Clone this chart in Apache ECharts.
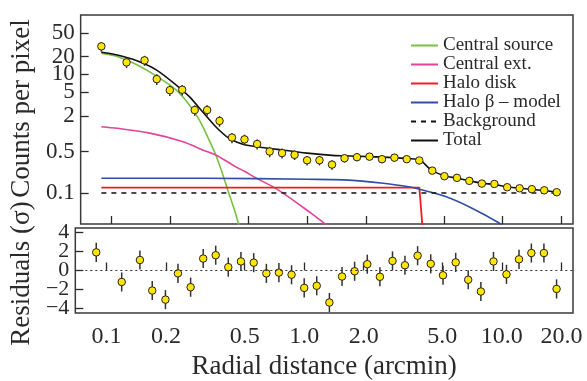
<!DOCTYPE html>
<html>
<head>
<meta charset="utf-8">
<script src="https://cdn.jsdelivr.net/npm/echarts@6/dist/echarts.min.js"></script>
<style>
html, body { margin: 0; padding: 0; background: #fff; }
#chart { width: 587px; height: 381px; }
</style>
</head>
<body>
<div id="chart"></div>
<script>
// measured profile (arcmin, counts per pixel)
var radius = [0.0887, 0.1193, 0.1475, 0.1703, 0.1986, 0.2298, 0.2663, 0.3083, 0.3567, 0.4129,
  0.4785, 0.5553, 0.6435, 0.7447, 0.863, 1.0, 1.157, 1.341, 1.554, 1.799,
  2.085, 2.415, 2.797, 3.233, 3.747, 4.366, 5.037, 5.84, 6.755, 7.83,
  9.07, 10.55, 12.21, 14.1, 16.32, 18.91];
var counts = [29.6, 15.9, 17.2, 8.3, 5.4, 5.5, 2.5, 2.5, 1.64, 0.86,
  0.8, 0.67, 0.5, 0.47, 0.44, 0.356, 0.356, 0.301, 0.385, 0.401,
  0.41, 0.371, 0.394, 0.371, 0.353, 0.238, 0.192, 0.18, 0.16, 0.144,
  0.142, 0.125, 0.12, 0.116, 0.111, 0.103];
var countErr = [5.5, 3.2, 3.3, 1.7, 1.1, 1.1, 0.5, 0.5, 0.33, 0.17,
  0.16, 0.13, 0.1, 0.09, 0.08, 0.065, 0.065, 0.055, 0.06, 0.06,
  0.06, 0.055, 0.055, 0.05, 0.05, 0.03, 0.025, 0.022, 0.02, 0.018,
  0.016, 0.014, 0.013, 0.012, 0.012, 0.011];
var residuals = [1.9, -1.2, 1.1, -2.1, -3.05, -0.3, -1.75, 1.25, 1.6, 0.35,
  0.95, 0.82, -0.3, -0.22, -0.44, -1.82, -1.6, -3.35, -0.63, -0.08,
  0.66, -0.66, 1.0, 0.55, 1.55, 0.7, -0.5, 0.85, -0.97, -2.2,
  0.95, -0.4, 1.17, 1.83, 1.83, -1.93];

// model components [r, counts]
var centralSource = [[0.0887, 22.8], [0.107, 20.0], [0.1348, 14.5], [0.17, 9.3], [0.2143, 5.4],
  [0.25, 3.04], [0.281, 1.7], [0.3155, 0.78], [0.341, 0.44], [0.3685, 0.215],
  [0.398, 0.099], [0.43, 0.046], [0.46, 0.02]];
var centralExt = [[0.0887, 1.31], [0.107, 1.23], [0.157, 1.02], [0.232, 0.733], [0.292, 0.532],
  [0.341, 0.438], [0.43, 0.278], [0.484, 0.228], [0.532, 0.189], [0.711, 0.113],
  [1.047, 0.0457], [1.33, 0.025]];
var haloDisk = [[0.0887, 0.123], [3.75, 0.123], [3.92, 0.02]];
var haloBeta = [[0.0887, 0.177], [0.3, 0.177], [1.0, 0.170], [1.54, 0.166], [2.45, 0.146],
  [3.47, 0.124], [3.75, 0.116], [5.11, 0.087], [6.97, 0.0554], [9.5, 0.0318], [10.5, 0.025]];
var background = [[0.0887, 0.1], [19.4, 0.1]];
var total = [[0.0887, 23.5], [0.107, 21.1], [0.1348, 16.9], [0.17, 11.8], [0.2143, 6.6],
  [0.25, 4.2], [0.292, 2.34], [0.341, 1.31], [0.398, 0.84], [0.465, 0.67],
  [0.522, 0.62], [0.745, 0.53], [1.0, 0.47], [1.341, 0.43], [1.554, 0.423],
  [2.085, 0.41], [2.797, 0.394], [3.5, 0.375], [3.75, 0.368], [4.3, 0.245],
  [5.04, 0.195], [5.84, 0.178], [6.76, 0.16], [7.83, 0.146], [9.07, 0.139],
  [10.55, 0.127], [12.21, 0.12], [14.1, 0.115], [16.32, 0.11], [18.91, 0.104]];

var xTicks = [0.1, 0.2, 0.5, 1, 2, 5, 10, 20];
var xTickLabels = ['0.1', '0.2', '0.5', '1.0', '2.0', '5.0', '10.0', '20.0'];
var yTicks = [0.1, 0.5, 2, 5, 10, 20, 50];
var yTickLabels = ['0.1', '0.5', '2', '5', '10', '20', '50'];
var resTicks = [-4, -2, 0, 2, 4];
var resTickLabels = ['\u22124', '\u22122', '0', '2', '4'];

var serif = 'Liberation Serif';
var ink = '#2a2a2a';

function pick(ticks, labels) {
  return function (v) {
    for (var i = 0; i < ticks.length; i++) {
      if (Math.abs(ticks[i] - v) < 1e-6 * Math.max(1, Math.abs(v))) return labels[i];
    }
    return '';
  };
}

function errorBar(params, api) {
  var x = api.value(0);
  var lo = api.coord([x, api.value(1)]);
  var hi = api.coord([x, api.value(2)]);
  return {
    type: 'line',
    shape: { x1: lo[0], y1: lo[1], x2: hi[0], y2: hi[1] },
    style: { stroke: '#333', lineWidth: 1.5 }
  };
}

var countBars = radius.map(function (r, i) {
  return [r, counts[i] - countErr[i], counts[i] + countErr[i]];
});
var resBars = radius.map(function (r, i) {
  return [r, residuals[i] - 1, residuals[i] + 1];
});

function xAxisCfg(grid, labels) {
  return {
    type: 'log', gridIndex: grid, min: 0.0695, max: 22.9,
    axisLine: { show: false },
    axisTick: { inside: true, length: 8, interval: 0, customValues: xTicks, lineStyle: { color: ink, width: 1.3 } },
    axisLabel: {
      show: labels, customValues: xTicks, formatter: pick(xTicks, xTickLabels),
      interval: 0, showMinLabel: true, showMaxLabel: true, hideOverlap: false,
      fontFamily: serif, fontSize: 24, color: ink, margin: 12
    },
    splitLine: { show: false },
    name: labels ? 'Radial distance (arcmin)' : '',
    nameLocation: 'middle', nameGap: 40,
    nameTextStyle: { fontFamily: serif, fontSize: 27, color: ink }
  };
}

function line(name, data, color, width, type, smooth) {
  return {
    name: name, type: 'line', xAxisIndex: 0, yAxisIndex: 0, data: data,
    symbol: 'none', smooth: smooth, clip: true,
    lineStyle: { color: color, width: width, type: type },
    itemStyle: { color: color }, z: 2
  };
}

var chart = echarts.init(document.getElementById('chart'));
chart.setOption({
  animation: false,
  grid: [
    { left: 73, right: 14, top: 15, height: 209, show: true, borderColor: '#3a3a3a', borderWidth: 1.5 },
    { left: 73, right: 14, top: 228, height: 92, show: true, borderColor: '#3a3a3a', borderWidth: 1.5 }
  ],
  legend: {
    left: 410, top: 36, padding: 0, orient: 'vertical', itemWidth: 27, itemHeight: 2, itemGap: 0,
    itemStyle: { opacity: 0 },
    textStyle: { fontFamily: serif, fontSize: 19, lineHeight: 17.3, color: ink },
    data: ['Central source', 'Central ext.', 'Halo disk', 'Halo \u03b2 \u2013 model', 'Background', 'Total']
  },
  xAxis: [xAxisCfg(0, false), xAxisCfg(1, true)],
  yAxis: [
    {
      type: 'log', gridIndex: 0, min: 0.03, max: 100,
      axisLine: { show: false },
      axisTick: { inside: true, length: 8, interval: 0, customValues: yTicks, lineStyle: { color: ink, width: 1.3 } },
      axisLabel: {
        customValues: yTicks, formatter: pick(yTicks, yTickLabels),
        interval: 0, showMinLabel: true, showMaxLabel: true, hideOverlap: false,
        fontFamily: serif, fontSize: 23, lineHeight: 15, color: ink, margin: 6
      },
      splitLine: { show: false },
      name: 'Counts per pixel', nameLocation: 'middle', nameGap: 40,
      nameTextStyle: { fontFamily: serif, fontSize: 27, color: ink, padding: [0, 0, 0, 22] }
    },
    {
      // ticks land on -4..4 step 2 (niced from the ±4.45 extent)
      type: 'value', gridIndex: 1, min: -4.45, max: 4.45, splitNumber: 4,
      axisLine: { show: false },
      axisTick: { inside: true, length: 8, lineStyle: { color: ink, width: 1.3 } },
      axisLabel: {
        formatter: pick(resTicks, resTickLabels),
        showMinLabel: false, showMaxLabel: false, hideOverlap: false,
        fontFamily: serif, fontSize: 22, lineHeight: 15, color: ink, margin: 6
      },
      splitLine: { show: false },
      name: 'Residuals (\u03c3)', nameLocation: 'middle', nameGap: 40,
      nameTextStyle: { fontFamily: serif, fontSize: 27, color: ink, padding: [0, 6, 0, 0] }
    }
  ],
  series: [
    line('Central source', centralSource, '#78c043', 1.6, 'solid', 0.3),
    line('Central ext.', centralExt, '#e0449c', 1.6, 'solid', 0.3),
    line('Halo disk', haloDisk, '#ee1c25', 1.8, 'solid', false),
    line('Halo \u03b2 \u2013 model', haloBeta, '#2e4fa3', 1.6, 'solid', 0.3),
    line('Background', background, '#111', 1.5, [5, 5], false),
    line('Total', total, '#111', 1.6, 'solid', 0.25),
    {
      type: 'custom', xAxisIndex: 0, yAxisIndex: 0, renderItem: errorBar,
      data: countBars, encode: { x: 0, y: [1, 2] }, z: 3, clip: true
    },
    {
      type: 'scatter', xAxisIndex: 0, yAxisIndex: 0, symbolSize: 7.5,
      data: radius.map(function (r, i) { return [r, counts[i]]; }),
      itemStyle: { color: '#ffe600', borderColor: '#222', borderWidth: 1, opacity: 1 }, z: 4
    },
    {
      type: 'custom', xAxisIndex: 1, yAxisIndex: 1, renderItem: errorBar,
      data: resBars, encode: { x: 0, y: [1, 2] }, z: 3
    },
    {
      type: 'scatter', xAxisIndex: 1, yAxisIndex: 1, symbolSize: 7.5,
      data: radius.map(function (r, i) { return [r, residuals[i]]; }),
      itemStyle: { color: '#ffe600', borderColor: '#222', borderWidth: 1, opacity: 1 }, z: 4,
      markLine: {
        silent: true, symbol: 'none', label: { show: false },
        lineStyle: { color: '#333', type: [2, 3], width: 1 },
        data: [{ yAxis: 0 }]
      }
    }
  ]
});
</script>
</body>
</html>
